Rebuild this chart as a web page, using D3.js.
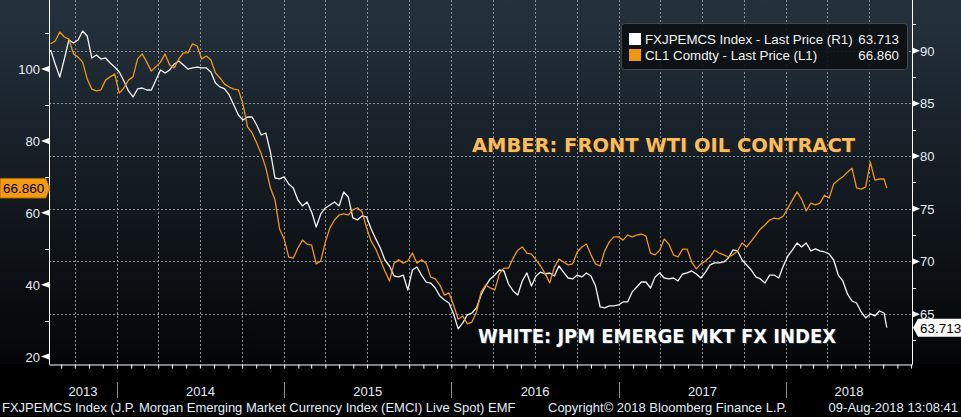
<!DOCTYPE html>
<html>
<head>
<meta charset="utf-8">
<script src="https://cdn.jsdelivr.net/npm/d3@7"></script>
<style>
  html, body { margin: 0; padding: 0; background: #000; }
  svg { display: block; }
  text { font-family: "Liberation Sans", Arial, sans-serif; }
</style>
</head>
<body>
<svg id="chart" width="961" height="417"></svg>
<script>
// samples every 10 days from 09-Aug-2013, last point is 09-Aug-2018
const startDate = new Date(2013, 7, 9);
const lastDate = new Date(2018, 7, 9);

// CL1 Comdty - last price (left axis)
const oilValues = [
  107.0, 107.8, 110.3, 108.9, 108.3, 104.2, 103.3, 101.9, 97.2, 94.4,
  93.9, 94.2, 96.9, 97.8, 98.6, 93.3, 94.7, 96.9, 97.8, 102.8,
  104.2, 101.9, 99.4, 100.6, 101.9, 104.2, 101.1, 100.3, 102.8, 104.5,
  104.5, 107.0, 106.4, 102.8, 103.6, 102.5, 98.9, 97.5, 95.8, 95.0,
  94.4, 94.2, 90.3, 83.9, 82.2, 79.4, 76.4, 72.5, 66.9, 63.6,
  55.5, 52.7, 47.7, 47.4, 50.2, 52.4, 51.3, 51.0, 45.8, 46.6,
  51.9, 55.8, 58.0, 59.4, 59.7, 59.4, 60.8, 61.4, 60.3, 55.8,
  52.1, 49.9, 46.9, 43.8, 41.0, 46.0, 46.9, 46.0, 46.6, 48.8,
  46.0, 46.9, 46.0, 42.1, 41.6, 39.9, 37.1, 37.7, 34.3, 30.4,
  31.3, 29.1, 29.6, 32.4, 38.0, 39.9, 39.1, 38.5, 43.0, 44.6,
  44.6, 47.4, 49.6, 50.5, 48.8, 48.5, 46.9, 45.2, 43.0, 40.5,
  44.9, 47.1, 46.3, 45.5, 45.8, 49.1, 50.5, 51.3, 48.3, 45.8,
  45.2, 49.4, 51.9, 53.3, 53.3, 52.4, 53.8, 53.3, 53.8, 54.1,
  53.5, 48.8, 48.3, 49.6, 52.7, 51.3, 48.3, 47.7, 49.9, 49.9,
  46.3, 44.4, 45.8, 46.6, 47.7, 49.6, 48.8, 48.3, 47.7, 48.3,
  49.4, 51.6, 50.5, 52.1, 53.8, 55.5, 56.6, 58.0, 58.5, 58.3,
  59.1, 61.3, 63.6, 65.8, 63.8, 60.5, 62.7, 62.2, 62.7, 64.9,
  64.1, 68.0, 69.1, 70.0, 71.3, 72.4, 66.9, 66.6, 67.2, 74.1,
  69.1, 69.4, 69.4, 66.86
];

// FXJPEMCS Index - last price (right axis)
const fxValues = [
  90.07, 88.74, 87.50, 89.21, 91.02, 90.73, 91.02, 91.87, 91.39, 89.31,
  89.59, 89.21, 89.31, 88.83, 88.45, 87.98, 87.13, 86.18, 85.61, 86.37,
  86.46, 86.27, 86.27, 87.22, 88.17, 87.88, 88.17, 88.74, 89.02, 88.64,
  88.26, 88.36, 88.45, 88.36, 88.36, 87.98, 86.94, 86.56, 86.37, 85.80,
  84.85, 83.90, 83.42, 83.71, 83.71, 82.95, 82.00, 82.19, 80.39, 77.92,
  77.83, 78.02, 77.35, 76.97, 75.83, 75.27, 75.64, 74.69, 73.27, 74.51,
  75.08, 75.36, 75.64, 75.27, 76.59, 76.12, 74.13, 73.94, 74.32, 74.22,
  73.08, 72.14, 71.28, 70.14, 69.57, 68.62, 68.53, 68.71, 67.29, 69.19,
  69.47, 68.71, 68.05, 67.95, 67.48, 66.72, 66.35, 66.06, 65.02, 63.60,
  64.17, 64.93, 65.11, 65.59, 66.82, 67.67, 68.34, 68.71, 69.19, 69.10,
  67.86, 67.20, 66.82, 68.15, 68.91, 67.67, 68.62, 68.99, 68.81, 68.91,
  68.62, 69.57, 68.99, 68.43, 68.34, 68.71, 68.53, 68.91, 68.62, 67.67,
  65.68, 65.59, 65.78, 65.78, 65.87, 66.16, 66.16, 67.11, 67.58, 68.05,
  68.05, 67.48, 68.53, 68.91, 68.43, 68.34, 68.43, 68.15, 68.81, 68.91,
  69.10, 68.81, 68.43, 68.99, 69.67, 69.86, 69.86, 69.95, 70.33, 71.09,
  71.00, 70.14, 69.67, 69.19, 68.53, 68.34, 67.96, 68.71, 68.71, 68.43,
  69.57, 70.52, 71.09, 71.75, 71.38, 71.75, 71.00, 71.19, 71.00, 70.90,
  70.71, 70.14, 68.71, 68.15, 66.92, 66.25, 66.06, 65.21, 64.64, 65.02,
  64.83, 65.30, 65.11, 63.713
];

const leftMajor = [20, 40, 60, 80, 100];
const leftMinor = [30, 50, 70, 90, 110];
const rightMajor = [65, 70, 75, 80, 85, 90];
const rightMinor = [62.5, 67.5, 72.5, 77.5, 82.5, 87.5, 92.5];
const years = [2013, 2014, 2015, 2016, 2017, 2018];

const legendRows = [
  { name: "FXJPEMCS Index - Last Price (R1)", last: "63.713", color: "#ffffff" },
  { name: "CL1 Comdty - Last Price (L1)", last: "66.860", color: "#f0960f" }
];

const dates = oilValues.map((_, i) =>
  i === oilValues.length - 1 ? lastDate : d3.timeDay.offset(startDate, 10 * i));
const oil = dates.map((d, i) => ({ date: d, v: oilValues[i] }));
const fx = dates.map((d, i) => ({ date: d, v: fxValues[i] }));

const W = 961, H = 417;
const L = 49, R = 912, T = 0, B = 364;
const svg = d3.select("#chart");

const x = d3.scaleTime()
  .domain([new Date(2013, 7, 5, 12), new Date(2018, 9, 3)])
  .range([L, R]);
const yL = d3.scaleLinear().domain([17.94, 119.19]).range([B, T]);
const yR = d3.scaleLinear().domain([60.27, 94.81]).range([B, T]);

// background
const defs = svg.append("defs");
const grad = defs.append("linearGradient").attr("id", "bg")
  .attr("x1", 0).attr("y1", 0).attr("x2", 0).attr("y2", 1);
grad.append("stop").attr("offset", "0%").attr("stop-color", "#25323e");
grad.append("stop").attr("offset", "50%").attr("stop-color", "#141b22");
grad.append("stop").attr("offset", "100%").attr("stop-color", "#040506");
defs.append("clipPath").attr("id", "plotclip")
  .append("rect").attr("x", L).attr("y", T).attr("width", R - L).attr("height", B - T);

svg.append("rect").attr("width", W).attr("height", H).attr("fill", "#000");
svg.append("rect").attr("width", W).attr("height", B).attr("fill", "url(#bg)");

// grid
const grid = svg.append("g")
  .attr("stroke", "#8a8f94").attr("stroke-width", 1).attr("stroke-dasharray", "2,2");
const quarters = x.ticks(d3.timeMonth.every(3)).filter(d => x(d) > L + 2 && x(d) < R - 4);
grid.selectAll("line.v").data(quarters).join("line")
  .attr("x1", d => Math.round(x(d)) + 0.5).attr("x2", d => Math.round(x(d)) + 0.5)
  .attr("y1", T).attr("y2", B);
grid.selectAll("line.h").data(rightMajor).join("line")
  .attr("x1", L).attr("x2", R)
  .attr("y1", d => Math.round(yR(d)) + 0.5).attr("y2", d => Math.round(yR(d)) + 0.5);

// series
const lineFx = d3.line().x(d => x(d.date)).y(d => yR(d.v));
const lineOil = d3.line().x(d => x(d.date)).y(d => yL(d.v));
const series = svg.append("g").attr("clip-path", "url(#plotclip)").attr("fill", "none")
  .attr("stroke-width", 1.3).attr("stroke-linejoin", "round");
series.append("path").attr("d", lineFx(fx)).attr("stroke", "#f4f4f4");
series.append("path").attr("d", lineOil(oil)).attr("stroke", "#f0960f");

// axes frame
const axisCol = "#ffffff";
svg.append("line").attr("x1", L + 0.5).attr("x2", L + 0.5).attr("y1", T).attr("y2", B + 0.5)
  .attr("stroke", axisCol);
svg.append("line").attr("x1", R + 0.5).attr("x2", R + 0.5).attr("y1", T).attr("y2", B + 0.5)
  .attr("stroke", axisCol);

const xAxis = svg.append("g").attr("transform", `translate(0,${B + 0.5})`)
  .call(d3.axisBottom(x).ticks(d3.timeMonth.every(1)).tickSize(4).tickSizeOuter(0).tickFormat(""));
xAxis.select(".domain").attr("stroke", axisCol);
xAxis.selectAll(".tick line").attr("stroke", axisCol);

const labelCol = "#e4edf6";

// left axis
const lax = svg.append("g");
lax.selectAll("line").data(leftMinor).join("line")
  .attr("x1", L - 4).attr("x2", L).attr("y1", d => Math.round(yL(d)) + 0.5).attr("y2", d => Math.round(yL(d)) + 0.5)
  .attr("stroke", axisCol);
lax.selectAll("path").data(leftMajor).join("path")
  .attr("d", d => { const y = yL(d); return `M${L - 8},${y}L${L},${y - 3}L${L},${y + 3}Z`; })
  .attr("fill", axisCol);
lax.selectAll("text").data(leftMajor).join("text")
  .attr("x", L - 9).attr("y", d => yL(d) + 5).attr("text-anchor", "end")
  .attr("font-size", 13).attr("fill", labelCol).text(d => d);

// right axis
const rax = svg.append("g");
rax.selectAll("line").data(rightMinor).join("line")
  .attr("x1", R).attr("x2", R + 4).attr("y1", d => Math.round(yR(d)) + 0.5).attr("y2", d => Math.round(yR(d)) + 0.5)
  .attr("stroke", axisCol);
rax.selectAll("path").data(rightMajor).join("path")
  .attr("d", d => { const y = yR(d); return `M${R + 8},${y}L${R + 1},${y - 3}L${R + 1},${y + 3}Z`; })
  .attr("fill", axisCol);
rax.selectAll("text").data(rightMajor).join("text")
  .attr("x", R + 8).attr("y", d => yR(d) + 5)
  .attr("font-size", 13).attr("fill", labelCol).text(d => d);

// year labels and separators
const xr = x.range();
years.forEach(yr => {
  const a = Math.max(x(new Date(yr, 0, 1)), xr[0]);
  const b = Math.min(x(new Date(yr + 1, 0, 1)), xr[1]);
  svg.append("text").attr("x", (a + b) / 2).attr("y", 396).attr("text-anchor", "middle")
    .attr("font-size", 13).attr("fill", labelCol).text(yr);
  const sx = x(new Date(yr, 0, 1));
  if (sx > xr[0]) {
    svg.append("line").attr("x1", Math.round(sx) + 0.5).attr("x2", Math.round(sx) + 0.5)
      .attr("y1", 382).attr("y2", 398).attr("stroke", "#8c8c8c");
  }
});

// last value tags
const oilLast = oilValues[oilValues.length - 1];
const fxLast = fxValues[fxValues.length - 1];
const yo = yL(oilLast);
svg.append("path")
  .attr("d", `M0,${yo - 10}L46,${yo - 10}L50,${yo}L46,${yo + 10}L0,${yo + 10}Z`)
  .attr("fill", "#f39a12").attr("stroke", "#6b4300").attr("stroke-width", 0.6);
svg.append("text").attr("x", 3).attr("y", yo + 5).attr("font-size", 13.5).attr("fill", "#000")
  .text(oilLast.toFixed(3));
const yf = yR(fxLast);
svg.append("path")
  .attr("d", `M913,${yf}L918,${yf - 9}L961,${yf - 9}L961,${yf + 9}L918,${yf + 9}Z`)
  .attr("fill", "#ffffff");
svg.append("text").attr("x", 920).attr("y", yf + 5).attr("font-size", 13.5).attr("fill", "#000")
  .text(fxLast.toFixed(3));

// legend
const lg = svg.append("g");
lg.append("rect").attr("x", 621.5).attr("y", 23.5).attr("width", 286).attr("height", 46).attr("rx", 3)
  .attr("fill", "#0b0f13").attr("fill-opacity", 0.9).attr("stroke", "#41474d");
legendRows.forEach((r, i) => {
  const cy = 39 + i * 16;
  lg.append("rect").attr("x", 629).attr("y", cy - 6).attr("width", 12).attr("height", 12).attr("fill", r.color);
  lg.append("text").attr("x", 645).attr("y", cy + 5).attr("font-size", 13.3).attr("fill", "#f2f2f2").text(r.name);
  lg.append("text").attr("x", 899).attr("y", cy + 5).attr("text-anchor", "end")
    .attr("font-size", 13.3).attr("fill", "#f2f2f2").text(r.last);
});

// annotations
function note(txt, x0, y0, len, fill, shadow) {
  [[1, 1, shadow], [0, 0, fill]].forEach(([dx, dy, c]) => {
    svg.append("text").attr("x", x0 + dx).attr("y", y0 + dy)
      .attr("textLength", len).attr("lengthAdjust", "spacingAndGlyphs")
      .style("font-family", "'DejaVu Sans', sans-serif").attr("font-weight", "bold")
      .attr("font-size", 19).attr("fill", c).text(txt);
  });
}
note("AMBER: FRONT WTI OIL CONTRACT", 472, 152, 383, "#f9bd5c", "#3d2a0c");
note("WHITE: JPM EMERGE MKT FX INDEX", 478, 343, 358, "#ffffff", "#22384f");

// footer
svg.append("text").attr("x", 2).attr("y", 412).attr("font-size", 13).attr("fill", labelCol)
  .text("FXJPEMCS Index (J.P. Morgan Emerging Market Currency Index (EMCI) Live Spot) EMF");
svg.append("text").attr("x", 548).attr("y", 412).attr("font-size", 13).attr("fill", labelCol)
  .text("Copyright\u00a9 2018 Bloomberg Finance L.P.");
svg.append("text").attr("x", 958).attr("y", 412).attr("text-anchor", "end").attr("font-size", 13).attr("fill", labelCol)
  .text("09-Aug-2018 13:08:41");
</script>
</body>
</html>
